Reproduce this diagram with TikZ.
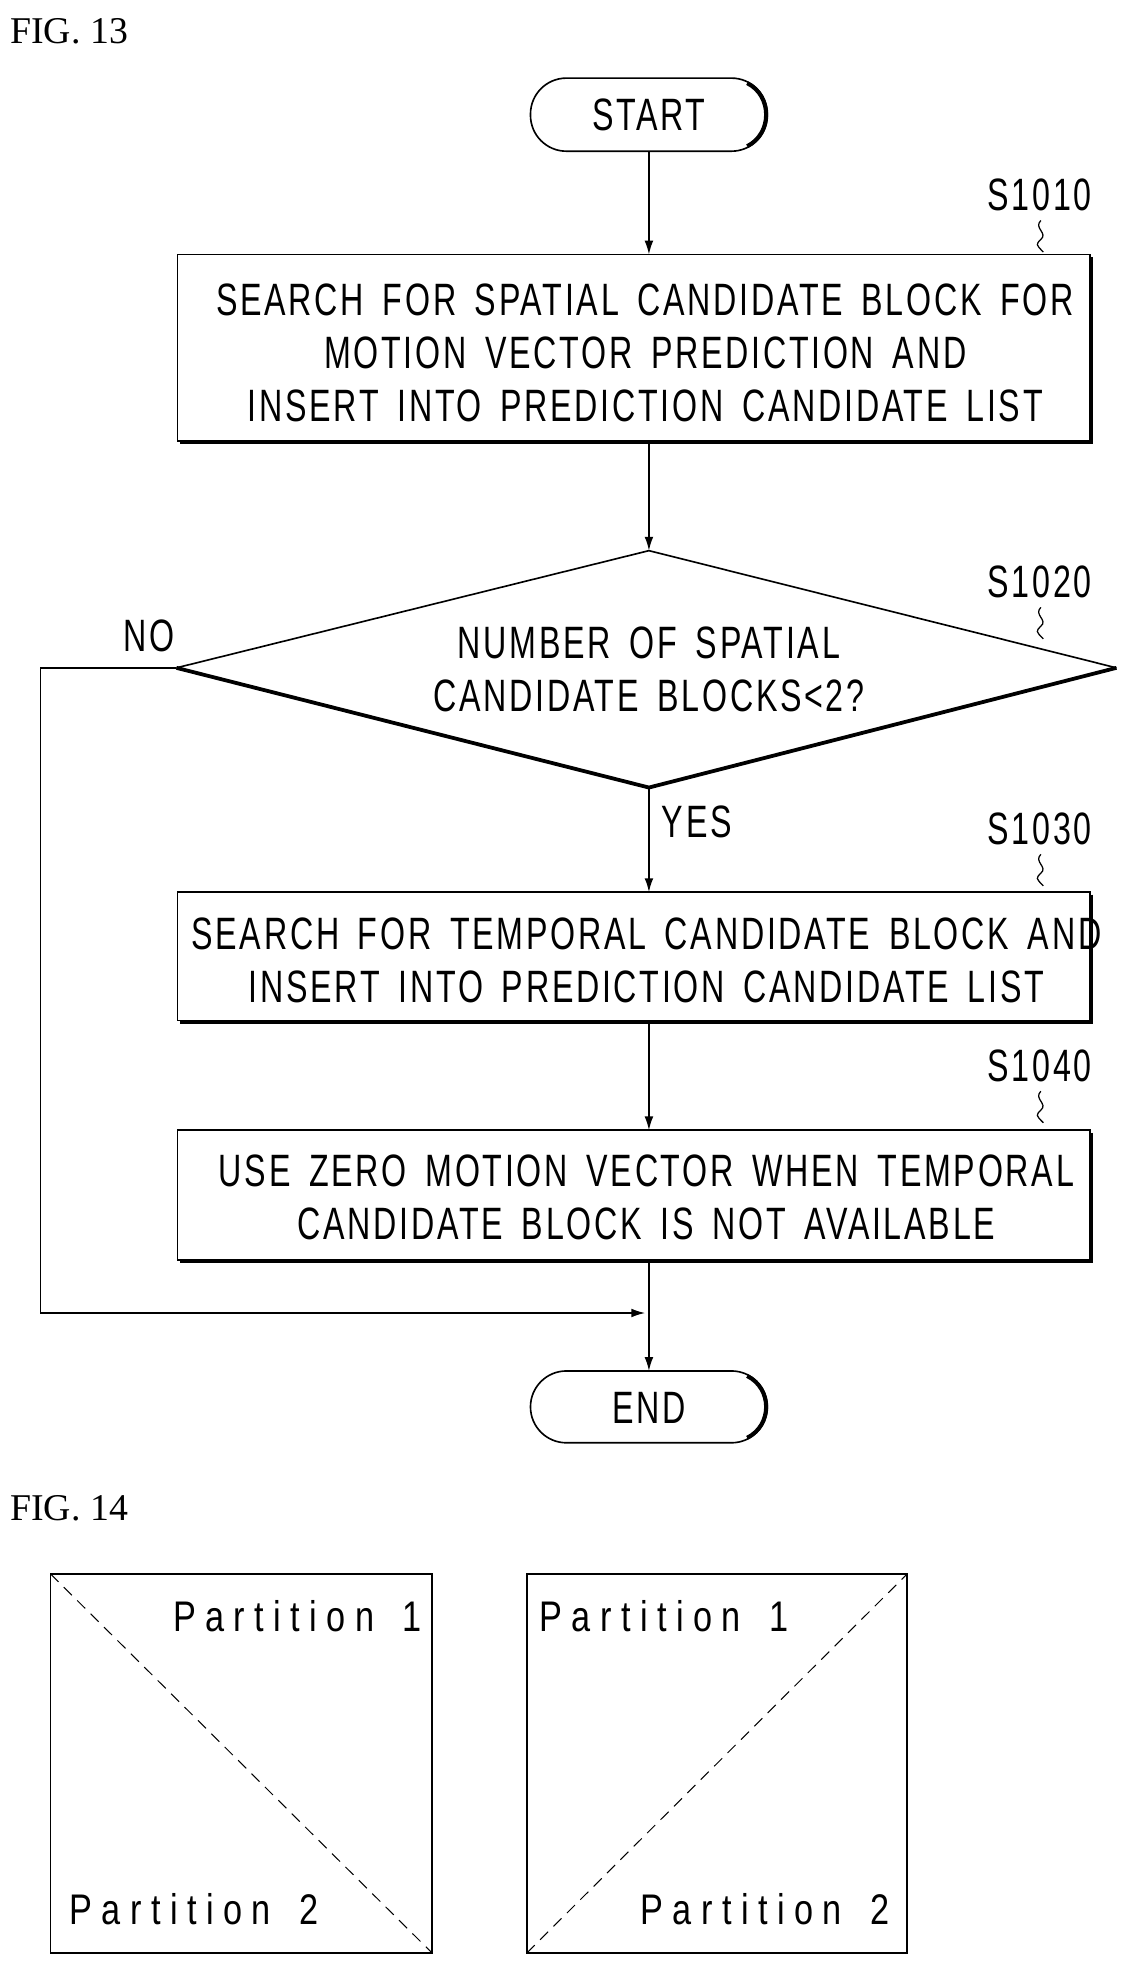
\documentclass[tikz,border=0pt]{standalone}
\usepackage{fontspec}
\setmainfont{Liberation Serif}
\newfontfamily\fc[FakeStretch=0.71,LetterSpace=6,WordSpace=1.6]{Liberation Sans}
\newfontfamily\fp[FakeStretch=0.8,LetterSpace=22,WordSpace=1.5]{Liberation Sans}
\usetikzlibrary{shapes.geometric,arrows.meta}
\begin{document}
\begin{tikzpicture}[x=1pt,y=-1pt,
  txt/.style={font=\fc\fontsize{36}{42}\selectfont,align=center,inner sep=0pt},
  lab/.style={font=\fc\fontsize{36}{40}\selectfont,inner sep=0pt},
  plab/.style={font=\fp\fontsize{34}{40}\selectfont,inner sep=0pt},
  fig/.style={font=\fontsize{30}{36}\selectfont,inner sep=0pt,anchor=west},
  line/.style={line width=1.3pt},
  arr/.style={line width=1.3pt,-{Latex[length=11pt,width=7pt]}},
  sq/.style={line width=1pt}]
\useasboundingbox (0,0) rectangle (906,1565);
\node[fig] (f13) at (8,25) {FIG. 13};
\node[fig] (f14) at (8,1197) {FIG. 14};
% terminators
\draw[line,rounded corners=28.5pt] (421,62) rectangle (609,120);
\draw[line width=3.2pt] (593,66) .. controls (613,76) and (613,106) .. (593,116);
\node[txt] (start) at (515,91) {START};
\draw[line,rounded corners=28.5pt] (421,1088) rectangle (609,1145);
\draw[line width=3.2pt] (593,1092) .. controls (613,1102) and (613,1131) .. (593,1141);
\node[txt] (end) at (515,1117) {END};
% box 1
\draw[line] (141,202) rectangle (865,350);
\draw[line width=3pt] (866,204) -- (866,351) -- (143,351);
\node[txt] (b1) at (512,280) {SEARCH FOR SPATIAL CANDIDATE BLOCK FOR\\MOTION VECTOR PREDICTION AND\\INSERT INTO PREDICTION CANDIDATE LIST};
% diamond
\coordinate (dt) at (515,437); \coordinate (dl) at (140,530);
\coordinate (dr) at (886,530); \coordinate (db) at (515,625);
\draw[line] (dl) -- (dt) -- (dr);
\draw[line width=3pt] (dl) -- (db) -- (dr);
\node[txt] (d) at (515,531) {NUMBER OF SPATIAL\\CANDIDATE BLOCKS<2?};
% box 3
\draw[line] (141,708) rectangle (865,810);
\draw[line width=3pt] (866,710) -- (866,811) -- (143,811);
\node[txt] (b3) at (513,762) {SEARCH FOR TEMPORAL CANDIDATE BLOCK AND\\INSERT INTO PREDICTION CANDIDATE LIST};
% box 4
\draw[line] (141,897) rectangle (865,1000);
\draw[line width=3pt] (866,899) -- (866,1001) -- (143,1001);
\node[txt] (b4) at (513,950) {USE ZERO MOTION VECTOR WHEN TEMPORAL\\CANDIDATE BLOCK IS NOT AVAILABLE};
% step labels
\node[lab] (s1) at (825,155) {S1010};
\node[lab] (s2) at (825,462) {S1020};
\node[lab] (s3) at (825,658) {S1030};
\node[lab] (s4) at (825,846) {S1040};
\foreach \y in {175,482,678,866}{
 \draw[sq] (826,\y) .. controls (820,\y+6) and (832,\y+10) .. (826,\y+15) .. controls (822,\y+19) .. (828,\y+25);}
\node[lab] (no) at (118,505) {NO};
\node[lab] (yes) at (553,652) {YES};
% connectors
\coordinate (c1) at (515,120); \coordinate (c2) at (515,202);
\draw[arr] (c1) -- (c2);
\coordinate (c3) at (515,351);
\draw[arr] (c3) -- (dt);
\coordinate (c4) at (515,708);
\draw[arr] (db) -- (c4);
\coordinate (c5) at (515,811); \coordinate (c6) at (515,897);
\draw[arr] (c5) -- (c6);
\coordinate (c7) at (515,1001); \coordinate (c8) at (515,1088);
\draw[arr] (c7) -- (c8);
\coordinate (m) at (512,1042);
\draw[arr] (dl) -- (32,530) -- (32,1042) -- (m);
% FIG 14
\draw[line] (40,1249) rectangle (343,1550);
\draw[line width=0.8pt,dash pattern=on 9pt off 6pt] (40,1249) -- (343,1550);
\node[plab,anchor=east] (p11) at (335,1283) {Partition 1};
\node[plab,anchor=west] (p12) at (55,1515) {Partition 2};
\draw[line] (418,1249) rectangle (720,1550);
\draw[line width=0.8pt,dash pattern=on 9pt off 6pt] (418,1550) -- (720,1249);
\node[plab,anchor=west] (p21) at (428,1283) {Partition 1};
\node[plab,anchor=east] (p22) at (706,1515) {Partition 2};
\end{tikzpicture}
\end{document}
